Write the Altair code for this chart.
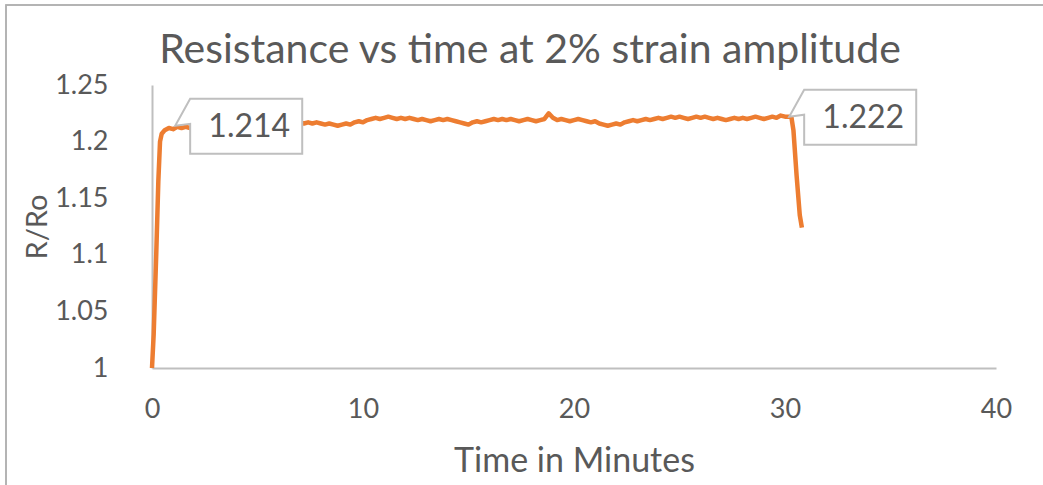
import altair as alt
import pandas as pd

# R/Ro readings: ramp-up, steady cycling plateau, and release
ramp_t = [0.0, 0.08, 0.2, 0.3, 0.38, 0.46]
ramp_r = [1.000, 1.030, 1.100, 1.165, 1.200, 1.207]

plateau_start, plateau_step = 0.6, 0.2
plateau_r = [
    1.210, 1.212, 1.211, 1.213, 1.212, 1.213, 1.212, 1.213, 1.214, 1.213,
    1.214, 1.213, 1.214, 1.215, 1.214, 1.215, 1.214, 1.215, 1.216, 1.215,
    1.215, 1.216, 1.215, 1.216, 1.217, 1.216, 1.217, 1.216, 1.217, 1.218,
    1.217, 1.218, 1.217, 1.216, 1.217, 1.216, 1.217, 1.216, 1.215, 1.216,
    1.215, 1.214, 1.215, 1.216, 1.215, 1.217, 1.218, 1.217, 1.219, 1.220,
    1.221, 1.220, 1.221, 1.222, 1.221, 1.220, 1.221, 1.220, 1.221, 1.220,
    1.219, 1.220, 1.219, 1.218, 1.219, 1.220, 1.219, 1.220, 1.219, 1.218,
    1.217, 1.216, 1.215, 1.217, 1.218, 1.217, 1.218, 1.219, 1.220, 1.219,
    1.220, 1.219, 1.220, 1.219, 1.218, 1.219, 1.220, 1.219, 1.218, 1.219,
    1.220, 1.225, 1.221, 1.219, 1.220, 1.219, 1.218, 1.219, 1.220, 1.219,
    1.218, 1.217, 1.218, 1.216, 1.215, 1.214, 1.215, 1.216, 1.215, 1.217,
    1.218, 1.219, 1.218, 1.219, 1.220, 1.219, 1.220, 1.221, 1.220, 1.221,
    1.222, 1.221, 1.222, 1.221, 1.220, 1.221, 1.222, 1.221, 1.222, 1.221,
    1.220, 1.221, 1.220, 1.219, 1.220, 1.221, 1.220, 1.221, 1.220, 1.221,
    1.222, 1.221, 1.220, 1.221, 1.222, 1.221, 1.223, 1.222, 1.222,
]

drop_t = [30.3, 30.4, 30.55, 30.7, 30.8]
drop_r = [1.222, 1.210, 1.170, 1.135, 1.124]

# Labelled readings
label_t = [1.1, 30.2]
label_r = [1.214, 1.222]

plateau_t = [round(plateau_start + plateau_step * i, 2) for i in range(len(plateau_r))]
series = pd.DataFrame({
    "t": ramp_t + plateau_t + drop_t,
    "r": ramp_r + plateau_r + drop_r,
})
labels = pd.DataFrame({"t": label_t, "r": label_r,
                       "txt": [f"{v:.3f}" for v in label_r]})

FONT = "Lato"
TEXT = "#595959"
AXIS = "#bfbfbf"

x = alt.X("t:Q", scale=alt.Scale(domain=[0, 40], nice=False),
          axis=alt.Axis(values=[0, 10, 20, 30, 40], title="Time in Minutes",
                        grid=False, ticks=False, domainColor=AXIS, domainWidth=2,
                        labelFlush=False,
                        labelFont=FONT, labelFontSize=27, labelColor=TEXT,
                        labelPadding=28, titleFont=FONT, titleFontSize=34,
                        titleFontWeight="normal", titleColor=TEXT, titlePadding=22))
y = alt.Y("r:Q", scale=alt.Scale(domain=[1.0, 1.25], nice=False, zero=False),
          axis=alt.Axis(values=[1.0, 1.05, 1.1, 1.15, 1.2, 1.25], title="R/Ro",
                        labelExpr="format(datum.value, '')",
                        grid=False, ticks=False, domainColor=AXIS, domainWidth=2,
                        labelFlush=False,
                        labelFont=FONT, labelFontSize=27, labelColor=TEXT,
                        labelPadding=44, titleFont=FONT, titleFontSize=29,
                        titleFontWeight="normal", titleColor=TEXT, titlePadding=2))

line = alt.Chart(series).mark_line(color="#ED7D31", strokeWidth=4.5,
                                   strokeJoin="round").encode(x=x, y=y, order="t:Q")

# Callout: pointer wedge + box, tip at the labelled reading
callout_path = ("M0,0 L0.115,-0.208 L0.977,-0.208 L0.977,0.215 "
                "L0.115,0.215 L0.115,-0.015 Z")
boxes = alt.Chart(labels).mark_point(
    shape=callout_path, size=67600, filled=True, fill="white",
    stroke="#bfbfbf", strokeWidth=2, opacity=1
).encode(x="t:Q", y="r:Q")

texts = alt.Chart(labels).mark_text(
    font=FONT, fontSize=32, color=TEXT, dx=74, dy=1, baseline="middle"
).encode(x="t:Q", y="r:Q", text="txt:N")

# Chart frame (its right and bottom edges fall past the canvas)
frame = alt.Chart(labels).mark_rect(
    fill=None, stroke="#b0b0b0", strokeWidth=1.5
).encode(x=alt.value(-146), x2=alt.value(910), y=alt.value(-80), y2=alt.value(420))

chart = alt.layer(line, boxes, texts, frame).properties(
    width=844, height=283,
    background="white",
    title=alt.TitleParams("Resistance vs time at 2% strain amplitude",
                          font=FONT, fontSize=41, fontWeight="normal",
                          color=TEXT, anchor="middle", frame="group",
                          baseline="alphabetic", dx=-44, offset=0, dy=100),
    autosize=alt.AutoSizeParams(type="none"),
    padding={"left": 152, "top": 85, "right": 47, "bottom": 117},
).configure_view(stroke=None, strokeWidth=0)

chart.save("out.html", embed_options={"renderer": "svg", "actions": False})
